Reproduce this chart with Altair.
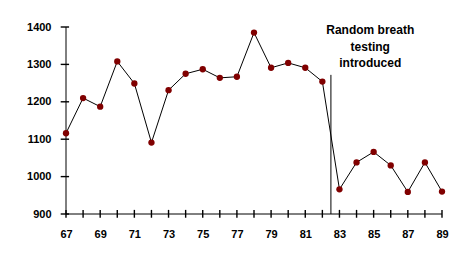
import altair as alt
import pandas as pd

years = list(range(67, 90))
values = [1116, 1210, 1187, 1308, 1249, 1091, 1231, 1275, 1287, 1264, 1267,
          1385, 1291, 1304, 1291, 1254, 966, 1038, 1066, 1030, 959, 1038, 960]

intro_year = [82.5]
intro_top = [1272]
note_lines = ["Random breath", "testing", "introduced"]
note_x = [84.8]
note_y = [1405]

x_ticks = list(range(67, 90))
y_ticks = [900, 1000, 1100, 1200, 1300, 1400]

df = pd.DataFrame({"year": years, "value": values})

FONT = "Liberation Sans"

xs = alt.Scale(domain=[67, 89], nice=False, zero=False)
ys = alt.Scale(domain=[900, 1400], nice=False, zero=False)

x_axis = alt.Axis(values=x_ticks, format="d", domain=False, grid=False,
                  ticks=False, tickSize=0,
                  labelOverlap=False, labelBound=False, labelFlush=False,
                  labelExpr="(datum.value - 67) % 2 == 0 ? datum.label : ''",
                  labelFont=FONT, labelFontSize=11, labelFontWeight="bold",
                  labelColor="black", labelPadding=14, title=None)
y_axis = alt.Axis(values=y_ticks, format="d", domain=False, grid=False,
                  ticks=False, tickSize=0,
                  labelOverlap=False, labelBound=False, labelFlush=False,
                  labelFont=FONT, labelFontSize=11, labelFontWeight="bold",
                  labelColor="black", labelPadding=15, title=None)


def X(field):
    return alt.X(field, type="quantitative", scale=xs, axis=x_axis)


def Y(field):
    return alt.Y(field, type="quantitative", scale=ys, axis=y_axis)


line = alt.Chart(df).mark_line(color="black", strokeWidth=1).encode(
    x=X("year"), y=Y("value"))
points = alt.Chart(df).mark_circle(color="#800000", opacity=1, size=40).encode(
    x=X("year"), y=Y("value"))

xdom = alt.Chart(pd.DataFrame({"x": [67.0], "x2": [89.0], "y": [900.0]})).mark_rule(
    color="black", strokeWidth=1).encode(x=X("x"), x2="x2:Q", y=Y("y"))
ydom = alt.Chart(pd.DataFrame({"x": [67.0], "y": [900.0], "y2": [1400.0]})).mark_rule(
    color="black", strokeWidth=1).encode(x=X("x"), y=Y("y"), y2="y2:Q")

xtk_df = pd.DataFrame({"tx": [float(v) for v in x_ticks],
                       "ty": [890.0] * len(x_ticks),
                       "ty2": [911.0] * len(x_ticks)})
xtk = alt.Chart(xtk_df).mark_rule(color="black", strokeWidth=1.4).encode(
    x=X("tx"), y=Y("ty"), y2="ty2:Q")

ytk_df = pd.DataFrame({"uy": [float(v) for v in y_ticks],
                       "ux": [66.69] * len(y_ticks),
                       "ux2": [67.18] * len(y_ticks)})
ytk = alt.Chart(ytk_df).mark_rule(color="black", strokeWidth=1.4).encode(
    x=X("ux"), x2="ux2:Q", y=Y("uy"))

intro = alt.Chart(pd.DataFrame({"x": intro_year, "y": [900.0], "y2": intro_top})).mark_rule(
    color="black", strokeWidth=1).encode(x=X("x"), y=Y("y"), y2="y2:Q")

note = alt.Chart(pd.DataFrame({"x": note_x, "y": note_y, "t": [note_lines]})).mark_text(
    font=FONT, fontSize=12, fontWeight="bold", color="black",
    align="center", baseline="top", lineHeight=16.5).encode(
    x=X("x"), y=Y("y"), text="t")

chart = alt.layer(xtk, ytk, xdom, ydom, line, intro, points, note).properties(
    width=376, height=187,
    padding={"left": 66, "top": 27, "right": 24, "bottom": 49},
    autosize="none",
    background="white",
).configure_view(stroke=None)

chart.save("out.html", embed_options={"renderer": "svg", "actions": False})
